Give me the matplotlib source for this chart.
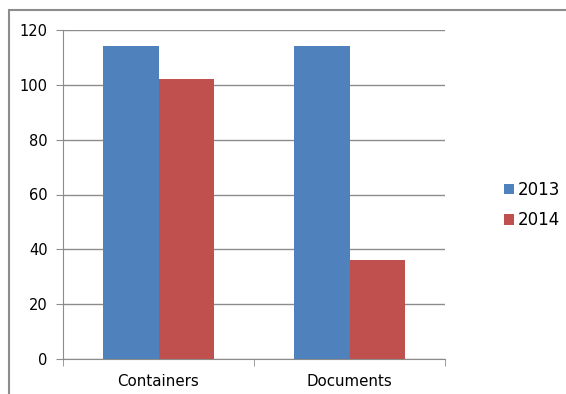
import numpy as np
import matplotlib.pyplot as plt
from matplotlib.patches import Rectangle

plt.rcParams['font.family'] = ['DejaVu Sans']

# donnees
categories = ["Containers", "Documents"]
years = ["2013", "2014"]
values_2013 = [114, 114]
values_2014 = [102, 36]
colors = ["#4F81BD", "#C0504D"]

fig = plt.figure(figsize=(5.66, 3.94), dpi=100)
ax = fig.add_axes([63 / 566, 1 - 359 / 394, 382 / 566, 329 / 394])

x = np.arange(len(categories))
w = 0.29
ax.bar(x - w / 2, values_2013, w, color=colors[0], label=years[0], zorder=3)
ax.bar(x + w / 2, values_2014, w, color=colors[1], label=years[1], zorder=3)

ax.set_xlim(-0.5, len(categories) - 0.5)
ax.set_ylim(0, 120)
ax.set_yticks(range(0, 121, 20))
ax.yaxis.grid(True, color="#8c8c8c", linewidth=1, zorder=0)

ax.set_xticks(x)
ax.set_xticklabels(categories, fontsize=10.8)
ax.set_xticks(np.arange(-0.5, len(categories), 1), minor=True)
ax.tick_params(axis="x", which="major", length=0, pad=11)
ax.tick_params(axis="x", which="minor", length=5, color="#8c8c8c")
ax.tick_params(axis="y", length=5, color="#8c8c8c", labelsize=10.5, pad=6)

for s in ["top", "right"]:
    ax.spines[s].set_visible(False)
for s in ["left", "bottom"]:
    ax.spines[s].set_color("#8c8c8c")

ax.legend(loc="center left", bbox_to_anchor=(1.115, 0.468), frameon=False,
          fontsize=12, handlelength=0.6, handleheight=0.6, handletextpad=0.25,
          labelspacing=0.75)

# cadre du graphique
fig.patches.append(Rectangle((9 / 566, -0.1), 2, 1.1 - 10 / 394, transform=fig.transFigure,
                             fill=False, edgecolor="#8c8c8c", linewidth=1.5))

fig.savefig("out.png", dpi=100)
